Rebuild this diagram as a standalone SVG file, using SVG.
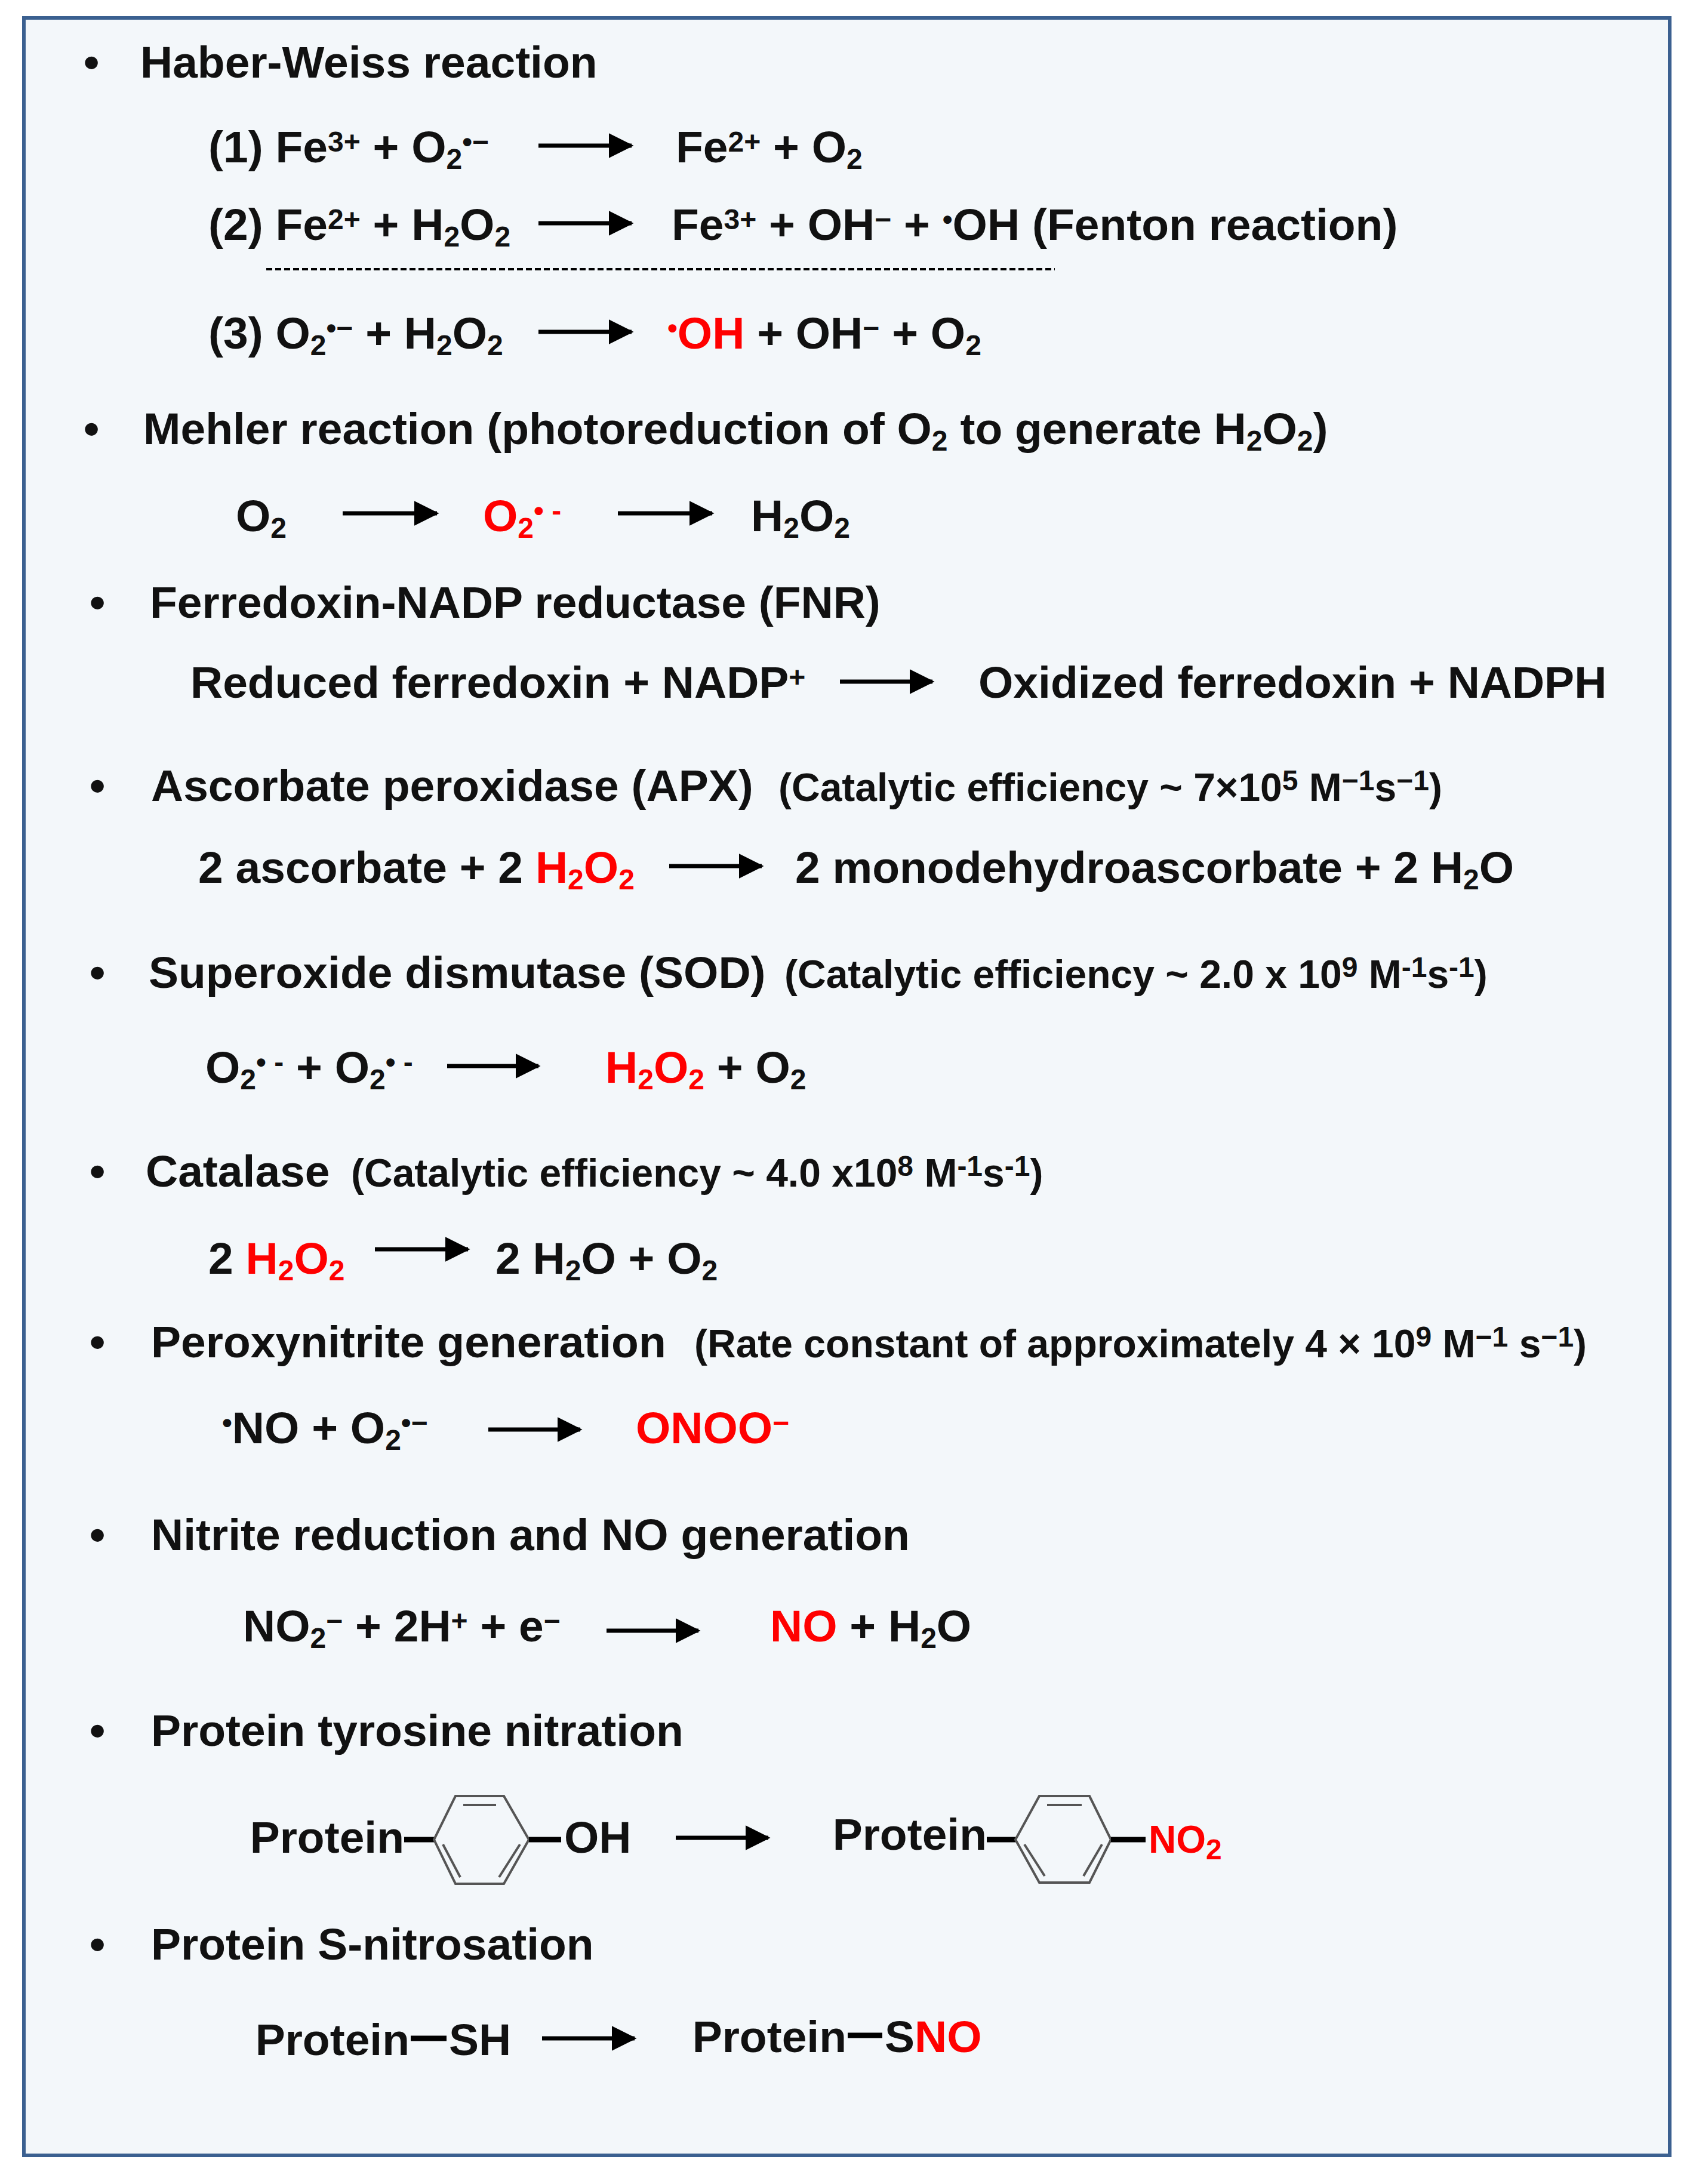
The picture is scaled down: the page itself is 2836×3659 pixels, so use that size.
<svg xmlns="http://www.w3.org/2000/svg" width="2836" height="3659" viewBox="0 0 2836 3659">
<style>
text{font-family:"Liberation Sans",Arial,sans-serif;font-weight:bold;fill:#111;font-size:75px}
.s{font-size:66px}
.r{fill:#f00}
.sp{font-size:48px;baseline-shift:38%}
.sb{font-size:48px;baseline-shift:-22%}
.ar{stroke:#000;stroke-width:7;fill:none;marker-end:url(#ah)}
.ring{stroke:#555;stroke-width:4;fill:none}
.bd{stroke:#000;stroke-width:9}
</style>
<defs>
<marker id="ah" markerWidth="6" markerHeight="6" refX="5.5" refY="3" orient="auto" markerUnits="strokeWidth">
<path d="M0,0 L6,3 L0,6 z" fill="#000"/>
</marker>
</defs>
<rect x="40" y="30" width="2757" height="3581" fill="#f3f7fa" stroke="#3b6090" stroke-width="6"/>
<g id="connectors">
<line class="ar" x1="902" y1="244" x2="1058" y2="244"/>
<line class="ar" x1="902" y1="374" x2="1058" y2="374"/>
<line class="ar" x1="902" y1="556" x2="1058" y2="556"/>
<line class="ar" x1="574" y1="860" x2="732" y2="860"/>
<line class="ar" x1="1035" y1="860" x2="1193" y2="860"/>
<line class="ar" x1="1407" y1="1142" x2="1562" y2="1142"/>
<line class="ar" x1="1121" y1="1451" x2="1276" y2="1451"/>
<line class="ar" x1="749" y1="1786" x2="902" y2="1786"/>
<line class="ar" x1="628" y1="2093" x2="784" y2="2093"/>
<line class="ar" x1="818" y1="2395" x2="972" y2="2395"/>
<line class="ar" x1="1016" y1="2732" x2="1170" y2="2732"/>
<line class="ar" x1="1132" y1="3079" x2="1287" y2="3079"/>
<line class="ar" x1="908" y1="3415" x2="1063" y2="3415"/>
</g>
<g id="haber">
<text x="140" y="130">•</text>
<text x="235" y="130">Haber-Weiss reaction</text>
<text x="349" y="272">(1) Fe<tspan class="sp">3+</tspan> + O<tspan class="sb">2</tspan><tspan class="sp">•−</tspan></text>
<text x="1132" y="272">Fe<tspan class="sp">2+</tspan> + O<tspan class="sb">2</tspan></text>
<text x="349" y="402">(2) Fe<tspan class="sp">2+</tspan> + H<tspan class="sb">2</tspan>O<tspan class="sb">2</tspan></text>
<text x="1125" y="402">Fe<tspan class="sp">3+</tspan> + OH<tspan class="sp">−</tspan> + <tspan class="sp">•</tspan>OH  (Fenton reaction)</text>
<line x1="446" y1="451" x2="1767" y2="451" stroke="#000" stroke-width="4" stroke-dasharray="10,5"/>
<text x="349" y="584">(3) O<tspan class="sb">2</tspan><tspan class="sp">•−</tspan> + H<tspan class="sb">2</tspan>O<tspan class="sb">2</tspan></text>
<text x="1118" y="584"><tspan class="r sp">•</tspan><tspan class="r">OH</tspan> + OH<tspan class="sp">−</tspan> + O<tspan class="sb">2</tspan></text>
</g>
<g id="mehler">
<text x="140" y="744">•</text>
<text x="240" y="744">Mehler reaction (photoreduction of O<tspan class="sb">2</tspan> to generate H<tspan class="sb">2</tspan>O<tspan class="sb">2</tspan>)</text>
<text x="395" y="890">O<tspan class="sb">2</tspan></text>
<text x="809" y="890" class="r">O<tspan class="sb r">2</tspan><tspan class="sp r">• -</tspan></text>
<text x="1258" y="890">H<tspan class="sb">2</tspan>O<tspan class="sb">2</tspan></text>
</g>
<g id="fnr">
<text x="150" y="1035">•</text>
<text x="251" y="1035">Ferredoxin-NADP reductase (FNR)</text>
<text x="319" y="1169">Reduced ferredoxin + NADP<tspan class="sp">+</tspan></text>
<text x="1639" y="1169">Oxidized ferredoxin + NADPH</text>
</g>
<g id="apx">
<text x="150" y="1342">•</text>
<text x="253" y="1342">Ascorbate peroxidase (APX)</text>
<text x="1304" y="1342" class="s">(Catalytic efficiency ~ 7×10<tspan class="sp">5</tspan> M<tspan class="sp">−1</tspan>s<tspan class="sp">−1</tspan>)</text>
<text x="332" y="1479">2 ascorbate + 2 <tspan class="r">H</tspan><tspan class="sb r">2</tspan><tspan class="r">O</tspan><tspan class="sb r">2</tspan></text>
<text x="1332" y="1479">2 monodehydroascorbate +  2 H<tspan class="sb">2</tspan>O</text>
</g>
<g id="sod">
<text x="150" y="1655">•</text>
<text x="249" y="1655">Superoxide dismutase (SOD)</text>
<text x="1314" y="1655" class="s">(Catalytic efficiency ~ 2.0 x 10<tspan class="sp">9</tspan> M<tspan class="sp">-1</tspan>s<tspan class="sp">-1</tspan>)</text>
<text x="344" y="1814">O<tspan class="sb">2</tspan><tspan class="sp">• -</tspan> + O<tspan class="sb">2</tspan><tspan class="sp">• -</tspan></text>
<text x="1014" y="1814"><tspan class="r">H</tspan><tspan class="sb r">2</tspan><tspan class="r">O</tspan><tspan class="sb r">2</tspan> + O<tspan class="sb">2</tspan></text>
</g>
<g id="catalase">
<text x="150" y="1988">•</text>
<text x="244" y="1988">Catalase</text>
<text x="588" y="1988" class="s">(Catalytic efficiency ~ 4.0 x10<tspan class="sp">8</tspan> M<tspan class="sp">-1</tspan>s<tspan class="sp">-1</tspan>)</text>
<text x="349" y="2134">2 <tspan class="r">H</tspan><tspan class="sb r">2</tspan><tspan class="r">O</tspan><tspan class="sb r">2</tspan></text>
<text x="830" y="2134">2 H<tspan class="sb">2</tspan>O + O<tspan class="sb">2</tspan></text>
</g>
<g id="peroxynitrite">
<text x="150" y="2274">•</text>
<text x="253" y="2274">Peroxynitrite generation</text>
<text x="1163" y="2274" class="s">(Rate constant of approximately 4 × 10<tspan class="sp">9</tspan> M<tspan class="sp">−1</tspan> s<tspan class="sp">−1</tspan>)</text>
<text x="372" y="2418"><tspan class="sp">•</tspan>NO + O<tspan class="sb">2</tspan><tspan class="sp">•−</tspan></text>
<text x="1065" y="2418" class="r">ONOO<tspan class="sp r">−</tspan></text>
</g>
<g id="nitrite">
<text x="150" y="2597">•</text>
<text x="253" y="2597">Nitrite reduction and NO generation</text>
<text x="407" y="2750">NO<tspan class="sb">2</tspan><tspan class="sp">−</tspan> + 2H<tspan class="sp">+</tspan> + e<tspan class="sp">−</tspan></text>
<text x="1290" y="2750"><tspan class="r">NO</tspan> + H<tspan class="sb">2</tspan>O</text>
</g>
<g id="tyrosine">
<text x="150" y="2925">•</text>
<text x="253" y="2925">Protein tyrosine nitration</text>
<text x="677" y="3104" text-anchor="end">Protein</text>
<line class="bd" x1="677" y1="3082" x2="727" y2="3082"/>
<polygon class="ring" points="763,3009 844,3009 886,3082 844,3156 763,3156 727,3082"/>
<line class="ring" x1="776" y1="3024" x2="831" y2="3024"/>
<line class="ring" x1="871" y1="3090" x2="836" y2="3145"/>
<line class="ring" x1="742" y1="3090" x2="771" y2="3145"/>
<line class="bd" x1="886" y1="3082" x2="940" y2="3082"/>
<text x="945" y="3104">OH</text>
<text x="1653" y="3099" text-anchor="end">Protein</text>
<line class="bd" x1="1653" y1="3082" x2="1701" y2="3082"/>
<polygon class="ring" points="1741,3009 1825,3009 1861,3082 1825,3154 1741,3154 1701,3082"/>
<line class="ring" x1="1754" y1="3024" x2="1812" y2="3024"/>
<line class="ring" x1="1846" y1="3090" x2="1815" y2="3143"/>
<line class="ring" x1="1716" y1="3090" x2="1750" y2="3143"/>
<line class="bd" x1="1861" y1="3082" x2="1919" y2="3082"/>
<text x="1924" y="3104" class="r" style="font-size:64px">NO<tspan class="sb r">2</tspan></text>
</g>
<g id="snitrosation">
<text x="150" y="3283">•</text>
<text x="253" y="3283">Protein S-nitrosation</text>
<text x="686" y="3443" text-anchor="end">Protein</text>
<line class="bd" x1="688" y1="3415" x2="748" y2="3415"/>
<text x="752" y="3443">SH</text>
<text x="1418" y="3438" text-anchor="end">Protein</text>
<line class="bd" x1="1420" y1="3410" x2="1478" y2="3410"/>
<text x="1482" y="3438">S<tspan class="r">NO</tspan></text>
</g>
</svg>
